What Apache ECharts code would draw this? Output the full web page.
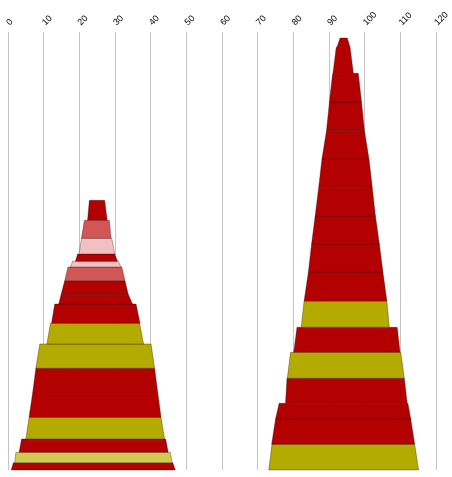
<!DOCTYPE html>
<html>
<head>
<meta charset="utf-8">
<script src="https://cdn.jsdelivr.net/npm/echarts@6/dist/echarts.min.js"></script>
<style>
  html, body { margin: 0; padding: 0; background: #fff; }
  #chart { width: 452px; height: 477px; }
</style>
</head>
<body>
<div id="chart"></div>
<script>
// x tick labels along the top
const xTicks = [0, 10, 20, 30, 40, 50, 60, 70, 80, 90, 100, 110, 120];

// band colours by kind
const kindColors = {
  red: "#b30000",
  olive: "#b3ab00",
  rose: "#d35656",
  blush: "#f1c1c1",
  straw: "#d3cb4f"
};

// left tower, bands from bottom to top
// heights of each band's base and top, and x of its edges at base / top
const aBase      = [0,    7.3,  17.7, 31,   52.7, 76.7, 101.7, 126,  146.7, 166,  175.7, 189.3, 203,  208.7, 216,  231.7, 249.7];
const aTop       = [7.3,  17.7, 31,   52.7, 76.7, 101.7, 126,  146.7, 166,  175.7, 189.3, 203,  208.7, 216,  231.7, 249.7, 269.7];
const aLeftLow   = [0.9,  1.9,  3.1,  5.0,  5.9,  6.9,  7.8,  10.9, 12.2, 14.2, 14.9, 15.9, 17.5, 18.9, 19.9, 20.6, 22.3];
const aRightLow  = [46.9, 46.0, 44.9, 43.9, 42.9, 42.0, 41.1, 38.0, 37.0, 34.9, 33.7, 32.8, 31.7, 30.7, 29.9, 28.9, 27.8];
const aLeftHigh  = [1.5,  2.2,  3.8,  5.9,  6.9,  7.8,  8.9,  11.9, 13.1, 14.9, 15.9, 16.8, 18.1, 19.5, 20.6, 21.4, 22.8];
const aRightHigh = [46.2, 45.5, 44.2, 42.9, 42.0, 41.1, 40.1, 36.9, 35.9, 33.7, 32.8, 31.9, 30.9, 29.9, 29.1, 28.4, 27.1];
const aKind      = ["red", "straw", "red", "olive", "red", "red", "olive", "olive", "red", "red", "red", "rose", "blush", "red", "blush", "rose", "red"];

// right tower, bands from bottom to top
const bBase      = [0,     25.7,  51,    66.7,  91.7,  117.7, 142.7, 169,   198,   226,   254,   282.7, 311,   339.7, 368,  396.7, 422.7];
const bTop       = [25.7,  51,    66.7,  91.7,  117.7, 142.7, 169,   198,   226,   254,   282.7, 311,   339.7, 368,   396.7, 422.7, 432];
const bLeftLow   = [73.1,  73.9,  75.0,  77.8,  78.3,  80.1,  82.2,  83.0,  84.2,  85.1,  86.1,  87.1,  88.0,  89.3,  90.1, 91.1, 92.2];
const bRightLow  = [115.1, 114.0, 112.9, 111.9, 111.1, 109.9, 106.9, 106.2, 105.1, 104.1, 103.0, 102.1, 101.2, 99.9,  99.1, 96.8, 95.9];
const bLeftHigh  = [74.0,  75.0,  76.0,  78.2,  79.2,  81.0,  83.0,  84.2,  85.1,  86.1,  87.1,  88.0,  89.3,  90.1,  91.0, 92.0, 93.1];
const bRightHigh = [114.0, 112.9, 112.1, 111.1, 110.1, 109.1, 106.2, 105.1, 104.1, 103.0, 102.1, 101.2, 99.9,  99.1,  98.2, 95.9, 95.1];
const bKind      = ["olive", "red", "red", "red", "olive", "red", "olive", "red", "red", "red", "red", "red", "red", "red", "red", "red", "red"];

function buildRows(base, top, ll, rl, lh, rh, kind) {
  return base.map((b, i) => ({
    value: [ll[i], rl[i], lh[i], rh[i], b, top[i]],
    kind: kind[i]
  }));
}

const rowsA = buildRows(aBase, aTop, aLeftLow, aRightLow, aLeftHigh, aRightHigh, aKind);
const rowsB = buildRows(bBase, bTop, bLeftLow, bRightLow, bLeftHigh, bRightHigh, bKind);

function makeRender(rows) {
  return function (params, api) {
    const p1 = api.coord([api.value(0), api.value(4)]);
    const p2 = api.coord([api.value(1), api.value(4)]);
    const p3 = api.coord([api.value(3), api.value(5)]);
    const p4 = api.coord([api.value(2), api.value(5)]);
    return {
      type: "polygon",
      shape: { points: [p1, p2, p3, p4] },
      style: {
        fill: kindColors[rows[params.dataIndex].kind],
        stroke: "rgba(40,0,0,0.45)",
        lineWidth: 0.7
      }
    };
  };
}

function bandSeries(name, rows) {
  return {
    name: name,
    type: "custom",
    renderItem: makeRender(rows),
    encode: { x: [0, 1, 2, 3], y: [4, 5] },
    data: rows.map(r => r.value),
    silent: true,
    animation: false
  };
}

const chart = echarts.init(document.getElementById("chart"));

const option = {
  backgroundColor: "#fff",
  animation: false,
  grid: { left: 8, right: 12.7, top: 32, bottom: 7 },
  xAxis: {
    type: "value",
    position: "top",
    min: xTicks[0],
    max: xTicks[xTicks.length - 1],
    interval: 10,
    axisLine: { show: false },
    axisTick: { show: false },
    axisLabel: {
      rotate: 45,
      margin: 8,
      color: "#000",
      fontSize: 9,
      fontFamily: "Liberation Sans, Arial, sans-serif",
      showMinLabel: true,
      showMaxLabel: true
    },
    splitLine: { show: true, lineStyle: { color: "#c4c4c4", width: 1 } }
  },
  yAxis: {
    type: "value",
    min: 0,
    max: 438,
    show: false,
    splitLine: { show: false }
  },
  series: [
    bandSeries("left", rowsA),
    bandSeries("right", rowsB)
  ]
};

chart.setOption(option);
window.addEventListener("resize", () => chart.resize());
</script>
</body>
</html>
